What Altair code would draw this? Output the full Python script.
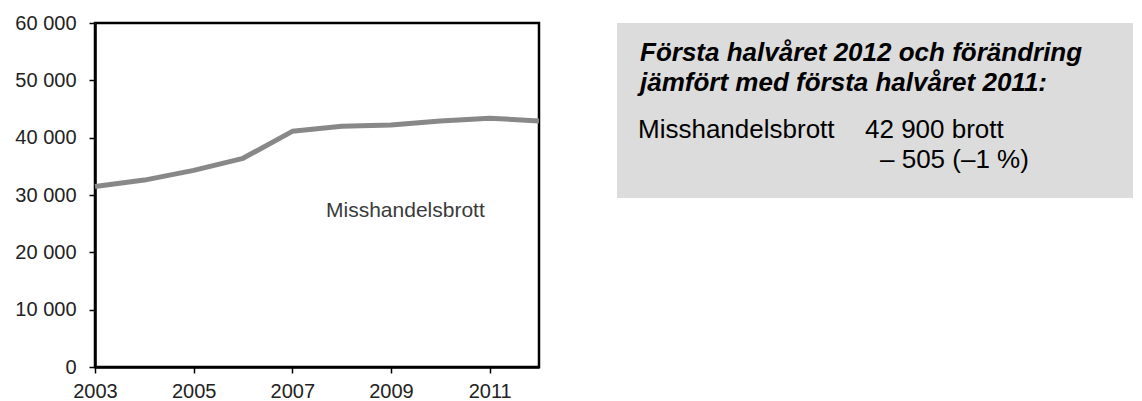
import altair as alt
import pandas as pd

years = [2003, 2004, 2005, 2006, 2007, 2008, 2009, 2010, 2011, 2012]
misshandel = [31500, 32600, 34300, 36400, 41100, 42000, 42200, 42900, 43400, 42900]
y_ticks = [0, 10000, 20000, 30000, 40000, 50000, 60000]
x_ticks = [2003, 2005, 2007, 2009, 2011]

series_label = "Misshandelsbrott"
box_title = ["Första halvåret 2012 och förändring", "jämfört med första halvåret 2011:"]
box_name = "Misshandelsbrott"
box_value = "42 900 brott"
box_change = "– 505 (–1 %)"

df = pd.DataFrame({"year": years, "value": misshandel})
one = pd.DataFrame({"a": [0]})

FONT = "Liberation Sans"

line = alt.Chart(df).mark_line(color="#888888", strokeWidth=5, strokeJoin="round").encode(
    x=alt.X("year:Q",
            scale=alt.Scale(domain=[2003, 2012], nice=False, zero=False),
            axis=alt.Axis(values=x_ticks, format="d", title=None, grid=False,
                          domainColor="#000000", domainWidth=2.5,
                          tickColor="#000000", tickWidth=1.5, tickSize=6,
                          labelFont=FONT, labelFontSize=20, labelColor="#222222",
                          labelPadding=8, labelFlush=False)),
    y=alt.Y("value:Q",
            scale=alt.Scale(domain=[0, 60000], nice=False),
            axis=alt.Axis(values=y_ticks, title=None, grid=False,
                          labelExpr="replace(format(datum.value, ','), ',', ' ')",
                          domainColor="#000000", domainWidth=2.5,
                          tickColor="#000000", tickWidth=1.5, tickSize=6,
                          labelFont=FONT, labelFontSize=20, labelColor="#222222",
                          labelPadding=13)),
)

box = alt.Chart(one).mark_rect(color="#dcdcdc").encode(
    x=alt.value(522), x2=alt.value(1038), y=alt.value(0), y2=alt.value(175)
)

plot_label = alt.Chart(one).mark_text(
    text=series_label, font=FONT, fontSize=21, color="#3a3a3a",
    align="left", baseline="alphabetic"
).encode(x=alt.value(231), y=alt.value(194))

title1 = alt.Chart(one).mark_text(
    text=box_title[0], font=FONT, fontSize=26, fontWeight="bold", fontStyle="italic",
    color="#000000", align="left", baseline="alphabetic"
).encode(x=alt.value(545), y=alt.value(38))

title2 = alt.Chart(one).mark_text(
    text=box_title[1], font=FONT, fontSize=26, fontWeight="bold", fontStyle="italic",
    color="#000000", align="left", baseline="alphabetic"
).encode(x=alt.value(545), y=alt.value(67.5))

name_t = alt.Chart(one).mark_text(
    text=box_name, font=FONT, fontSize=26, color="#000000",
    align="left", baseline="alphabetic"
).encode(x=alt.value(543), y=alt.value(114.5))

value_t = alt.Chart(one).mark_text(
    text=box_value, font=FONT, fontSize=26, color="#000000",
    align="left", baseline="alphabetic"
).encode(x=alt.value(770), y=alt.value(114.5))

change_t = alt.Chart(one).mark_text(
    text=box_change, font=FONT, fontSize=26, color="#000000",
    align="left", baseline="alphabetic"
).encode(x=alt.value(785), y=alt.value(145))

chart = alt.layer(box, line, plot_label, title1, title2, name_t, value_t, change_t).properties(
    width=444, height=344,
    background="#ffffff",
    autosize=alt.AutoSizeParams(type="none"),
    padding={"left": 87, "top": 15, "right": 594, "bottom": 34},
).configure_view(stroke="#000000", strokeWidth=2.5)

chart.save("out.html", embed_options={"renderer": "svg", "actions": False})
